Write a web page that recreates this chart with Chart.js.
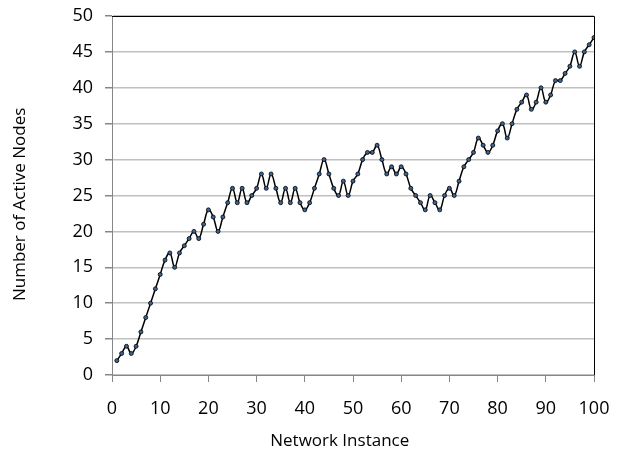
<!DOCTYPE html>
<html>
<head>
<meta charset="utf-8">
<script src="https://cdn.jsdelivr.net/npm/chart.js@4/dist/chart.umd.min.js"></script>
<style>
  html, body { margin: 0; padding: 0; background: #fff; }
  #wrap { width: 618px; height: 451px; }
</style>
</head>
<body>
<div id="wrap"><canvas id="c" width="618" height="451"></canvas></div>
<script>
// x = network instance, y = active node count
const instances = [];
for (let i = 1; i <= 100; i++) instances.push(i);
const activeNodes = [
  2, 3, 4, 3, 4, 6, 8, 10, 12, 14,
  16, 17, 15, 17, 18, 19, 20, 19, 21, 23,
  22, 20, 22, 24, 26, 24, 26, 24, 25, 26,
  28, 26, 28, 26, 24, 26, 24, 26, 24, 23,
  24, 26, 28, 30, 28, 26, 25, 27, 25, 27,
  28, 30, 31, 31, 32, 30, 28, 29, 28, 29,
  28, 26, 25, 24, 23, 25, 24, 23, 25, 26,
  25, 27, 29, 30, 31, 33, 32, 31, 32, 34,
  35, 33, 35, 37, 38, 39, 37, 38, 40, 38,
  39, 41, 41, 42, 43, 45, 43, 45, 46, 47
];
const xTicks = [0, 10, 20, 30, 40, 50, 60, 70, 80, 90, 100];
const yTicks = [0, 5, 10, 15, 20, 25, 30, 35, 40, 45, 50];

const FONT = "'Open Sans', 'Liberation Sans', sans-serif";

// 上と右の黒い枠線
const frame = {
  id: 'frame',
  afterDraw(chart) {
    const { ctx, chartArea: a } = chart;
    ctx.save();
    ctx.strokeStyle = '#000';
    ctx.lineWidth = 1;
    ctx.beginPath();
    ctx.moveTo(a.left, a.top + 0.5);
    ctx.lineTo(a.right + 0.5, a.top + 0.5);
    ctx.lineTo(a.right + 0.5, a.bottom);
    ctx.stroke();
    ctx.restore();
  }
};

new Chart(document.getElementById('c').getContext('2d'), {
  type: 'line',
  data: {
    labels: instances,
    datasets: [{
      data: instances.map((x, i) => ({ x: x, y: activeNodes[i] })),
      borderColor: '#000',
      borderWidth: 1.5,
      tension: 0.4,
      pointRadius: 2,
      pointBackgroundColor: '#3f6390',
      pointBorderColor: '#000',
      pointBorderWidth: 0.8,
      fill: false
    }]
  },
  options: {
    responsive: false,
    animation: false,
    layout: { padding: { left: 0, right: 24, top: 16, bottom: 0 } },
    plugins: { legend: { display: false }, tooltip: { enabled: false } },
    scales: {
      x: {
        type: 'linear',
        min: 0, max: 100,
        afterBuildTicks: (s) => { s.ticks = xTicks.map(v => ({ value: v })); },
        // 軸ラベルのはみ出し分の余白は使わず、layout.padding で位置を決める
        afterFit: (s) => { s.height = 76; s.paddingLeft = 0; s.paddingRight = 0; },
        grid: { drawOnChartArea: false, drawTicks: true, tickLength: 7, color: '#868686' },
        border: { color: '#868686' },
        ticks: { color: '#000', font: { family: FONT, size: 18 }, padding: 16, maxRotation: 0 },
        // 末尾の空白はタイトルを少し左に寄せるため
        title: { display: true, text: 'Network Instance      ', color: '#000', font: { family: FONT, size: 17 }, padding: 0 }
      },
      y: {
        min: 0, max: 50,
        afterBuildTicks: (s) => { s.ticks = yTicks.map(v => ({ value: v })); },
        afterFit: (s) => { s.width = 112; s.paddingTop = 0; s.paddingBottom = 0; },
        grid: { color: '#c0c0c0', lineWidth: 1.5, tickLength: 7, tickColor: '#868686' },
        border: { color: '#868686' },
        ticks: { color: '#000', font: { family: FONT, size: 18 }, padding: 12 },
        title: { display: true, text: 'Number of Active Nodes    ', color: '#000', font: { family: FONT, size: 17 }, padding: { top: 10, bottom: 0 } }
      }
    }
  },
  plugins: [frame]
});
</script>
</body>
</html>
